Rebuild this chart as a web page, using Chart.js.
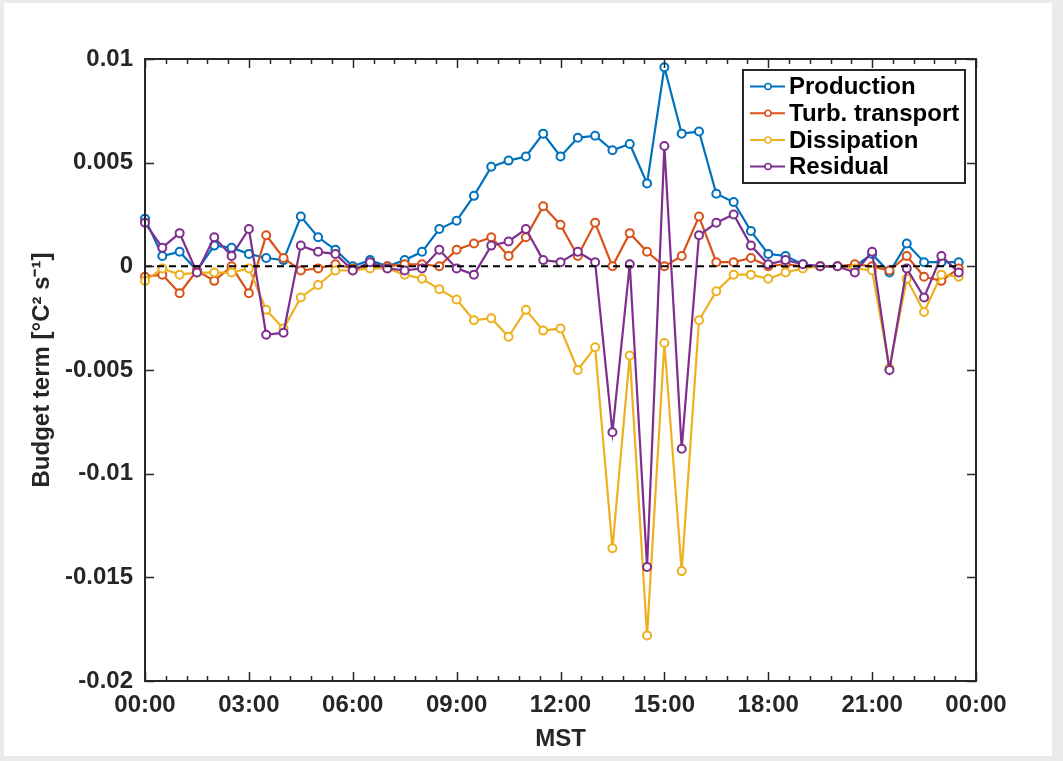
<!DOCTYPE html>
<html>
<head>
<meta charset="utf-8">
<script src="https://cdn.jsdelivr.net/npm/chart.js@4.4.1/dist/chart.umd.min.js"></script>
<style>
  html, body { margin: 0; padding: 0; background: #ebebeb; }
  #paper { position: absolute; left: 4px; top: 3px; width: 1048px; height: 753px; background: #fff; }
  #c { position: absolute; left: 0; top: 0; }
</style>
</head>
<body>
<div id="paper"></div>
<canvas id="c" width="1063" height="761"></canvas>
<script>
// half-hourly times (MST)
const times = ['00:00','00:30','01:00','01:30','02:00','02:30','03:00','03:30','04:00','04:30','05:00','05:30',
  '06:00','06:30','07:00','07:30','08:00','08:30','09:00','09:30','10:00','10:30','11:00','11:30',
  '12:00','12:30','13:00','13:30','14:00','14:30','15:00','15:30','16:00','16:30','17:00','17:30',
  '18:00','18:30','19:00','19:30','20:00','20:30','21:00','21:30','22:00','22:30','23:00','23:30'];

const production = [0.0023,0.0005,0.0007,-0.0002,0.0010,0.0009,0.0006,0.0004,0.0003,0.0024,0.0014,0.0008,
  0.0000,0.0003,0.0000,0.0003,0.0007,0.0018,0.0022,0.0034,0.0048,0.0051,0.0053,0.0064,
  0.0053,0.0062,0.0063,0.0056,0.0059,0.0040,0.0096,0.0064,0.0065,0.0035,0.0031,0.0017,
  0.0006,0.0005,0.0001,0.0000,0.0000,0.0000,0.0006,-0.0003,0.0011,0.0002,0.0002,0.0002];

const turbTransport = [-0.0005,-0.0004,-0.0013,-0.0002,-0.0007,0.0000,-0.0013,0.0015,0.0004,-0.0002,-0.0001,0.0001,
  -0.0001,0.0000,0.0000,0.0001,0.0001,0.0000,0.0008,0.0011,0.0014,0.0005,0.0014,0.0029,
  0.0020,0.0005,0.0021,0.0000,0.0016,0.0007,0.0000,0.0005,0.0024,0.0002,0.0002,0.0004,
  0.0000,0.0001,0.0000,0.0000,0.0000,0.0001,0.0000,-0.0002,0.0005,-0.0005,-0.0007,-0.0001];

const dissipation = [-0.0007,-0.0001,-0.0004,-0.0003,-0.0003,-0.0003,-0.0001,-0.0021,-0.0030,-0.0015,-0.0009,-0.0002,
  -0.0002,-0.0001,-0.0001,-0.0004,-0.0006,-0.0011,-0.0016,-0.0026,-0.0025,-0.0034,-0.0021,-0.0031,
  -0.0030,-0.0050,-0.0039,-0.0136,-0.0043,-0.0178,-0.0037,-0.0147,-0.0026,-0.0012,-0.0004,-0.0004,
  -0.0006,-0.0003,-0.0001,0.0000,0.0000,-0.0001,-0.0002,-0.0049,-0.0006,-0.0022,-0.0004,-0.0005];

const residual = [0.0021,0.0009,0.0016,-0.0003,0.0014,0.0005,0.0018,-0.0033,-0.0032,0.0010,0.0007,0.0006,
  -0.0002,0.0002,-0.0001,-0.0002,-0.0001,0.0008,-0.0001,-0.0004,0.0010,0.0012,0.0018,0.0003,
  0.0002,0.0007,0.0002,-0.0080,0.0001,-0.0145,0.0058,-0.0088,0.0015,0.0021,0.0025,0.0010,
  0.0001,0.0003,0.0001,0.0000,0.0000,-0.0003,0.0007,-0.0050,-0.0001,-0.0015,0.0005,-0.0003];

const yTicks = [0.01, 0.005, 0, -0.005, -0.01, -0.015, -0.02];

const colors = {
  production: '#0072BD',
  turb: '#D95319',
  diss: '#EDB120',
  resid: '#7E2F8E',
  axis: '#262626'
};

const hours = times.map(t => {
  const [h, m] = t.split(':').map(Number);
  return h + m / 60;
});
const pts = vals => vals.map((v, i) => ({ x: hours[i], y: v }));

function series(label, vals, color, order) {
  return {
    label: label,
    data: pts(vals),
    borderColor: color,
    backgroundColor: color,
    borderWidth: 2.2,
    pointRadius: 4,
    pointBorderWidth: 2,
    pointBackgroundColor: '#ffffff',
    pointBorderColor: color,
    tension: 0,
    clip: false,
    order: order
  };
}

// axes box, inward ticks and the legend box (MATLAB style)
const frame = {
  id: 'frame',
  afterDatasetsDraw(chart) {
    const { ctx, chartArea: a, scales: { x, y } } = chart;
    ctx.save();
    ctx.strokeStyle = colors.axis;
    ctx.lineWidth = 1.5;
    ctx.beginPath();
    for (let k = 0; k <= 40; k++) {
      const px = Math.round(x.getPixelForValue(k * 0.6)) + 0.5;
      const len = k % 5 === 0 ? 9 : 5;
      ctx.moveTo(px, a.bottom); ctx.lineTo(px, a.bottom - len);
      ctx.moveTo(px, a.top); ctx.lineTo(px, a.top + len);
    }
    yTicks.forEach(v => {
      const py = Math.round(y.getPixelForValue(v)) + 0.5;
      ctx.moveTo(a.left, py); ctx.lineTo(a.left + 9, py);
      ctx.moveTo(a.right, py); ctx.lineTo(a.right - 9, py);
    });
    ctx.stroke();
    ctx.lineWidth = 2;
    ctx.strokeRect(a.left, a.top, a.right - a.left, a.bottom - a.top);

    // legend
    const items = chart.data.datasets.filter(d => d.label);
    const lx = a.right - 233, ly = a.top + 11, lw = 222, lh = 113;
    ctx.fillStyle = '#fff';
    ctx.fillRect(lx, ly, lw, lh);
    ctx.strokeStyle = colors.axis;
    ctx.lineWidth = 2;
    ctx.strokeRect(lx, ly, lw, lh);
    ctx.font = 'bold 24px "Liberation Sans", Arial, sans-serif';
    ctx.textBaseline = 'middle';
    items.forEach((d, i) => {
      const cy = ly + 16.5 + i * 26.7;
      ctx.strokeStyle = d.borderColor;
      ctx.lineWidth = 2;
      ctx.beginPath();
      ctx.moveTo(lx + 7, cy); ctx.lineTo(lx + 42, cy);
      ctx.stroke();
      ctx.beginPath();
      ctx.arc(lx + 25, cy, 3, 0, Math.PI * 2);
      ctx.fillStyle = '#fff';
      ctx.fill();
      ctx.lineWidth = 1.5;
      ctx.stroke();
      ctx.fillStyle = '#000';
      ctx.fillText(d.label, lx + 46, cy + 1);
    });
    ctx.restore();
  }
};

const tickFont = { family: '"Liberation Sans", Arial, sans-serif', size: 24, weight: 'bold' };

new Chart(document.getElementById('c'), {
  type: 'line',
  data: {
    datasets: [
      series('Production', production, colors.production, 5),
      series('Turb. transport', turbTransport, colors.turb, 4),
      series('Dissipation', dissipation, colors.diss, 3),
      series('Residual', residual, colors.resid, 2),
      {
        label: '',
        data: pts(times.map(() => 0)),
        borderColor: '#000',
        borderWidth: 2,
        borderDash: [7, 5],
        pointRadius: 0,
        clip: false,
        order: 1
      }
    ]
  },
  options: {
    responsive: false,
    devicePixelRatio: 1,
    animation: false,
    layout: { padding: { left: 0, top: 59, right: 87, bottom: 0 } },
    plugins: {
      legend: { display: false },
      tooltip: { enabled: false }
    },
    scales: {
      x: {
        type: 'linear',
        min: 0,
        max: 24,
        grid: { display: false, drawTicks: false },
        border: { display: false },
        afterFit: s => { s.height = 80; },
        ticks: {
          stepSize: 3,
          autoSkip: false,
          maxRotation: 0,
          padding: 10,
          color: colors.axis,
          font: tickFont,
          callback: v => String(v % 24).padStart(2, '0') + ':00'
        },
        title: {
          display: true,
          text: 'MST',
          color: colors.axis,
          font: tickFont,
          padding: { top: 0, bottom: 7 }
        }
      },
      y: {
        min: -0.02,
        max: 0.01,
        grid: { display: false, drawTicks: false },
        border: { display: false },
        afterFit: s => { s.width = 145; },
        afterBuildTicks: s => { s.ticks = yTicks.map(v => ({ value: v })); },
        ticks: {
          padding: 12,
          color: colors.axis,
          font: tickFont,
          callback: v => String(parseFloat(Number(v).toFixed(3)))
        },
        title: {
          display: true,
          text: 'Budget term [°C² s⁻¹]',
          color: colors.axis,
          font: tickFont,
          padding: { top: 28, bottom: 0 }
        }
      }
    }
  },
  plugins: [frame]
});
</script>
</body>
</html>
